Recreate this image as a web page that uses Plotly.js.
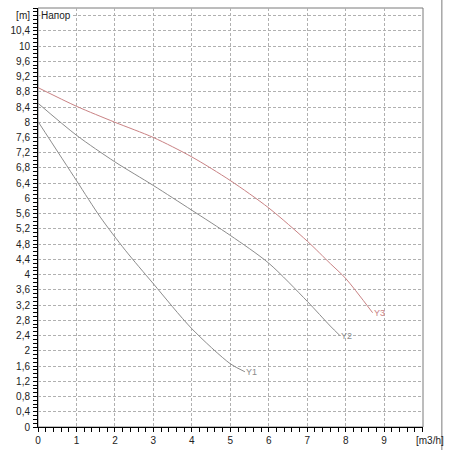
<!DOCTYPE html>
<html>
<head>
<meta charset="utf-8">
<script src="https://cdn.plot.ly/plotly-3.0.1.min.js"></script>
<style>
  html, body { margin: 0; padding: 0; background: #fff; }
  #chart { width: 450px; height: 450px; }
</style>
</head>
<body>
<div id="chart"></div>
<script>
// pump curves, head [m] vs flow [m3/h]
var y1Flow = [0, 1, 1.62, 2.27, 3.0, 4.0, 5.0, 5.38];
var y1Head = [8.02, 6.47, 5.51, 4.64, 3.76, 2.58, 1.66, 1.45];

var y2Flow = [0, 1, 2, 3, 4, 5, 6, 7, 7.6, 7.85];
var y2Head = [8.5, 7.66, 6.96, 6.34, 5.69, 5.03, 4.3, 3.3, 2.65, 2.4];

var y3Flow = [0, 1, 2, 3, 4, 5, 6, 7, 7.6, 8, 8.7];
var y3Head = [8.91, 8.42, 8.0, 7.6, 7.09, 6.47, 5.75, 4.88, 4.29, 3.9, 3.0];

var curveNames = ['Y1', 'Y2', 'Y3'];
var curveColors = ['#8c8c8c', '#8c8c8c', '#c98284'];

var xTicks = [0, 1, 2, 3, 4, 5, 6, 7, 8, 9];
var yTicks = [0, 0.4, 0.8, 1.2, 1.6, 2, 2.4, 2.8, 3.2, 3.6, 4, 4.4, 4.8, 5.2, 5.6, 6,
              6.4, 6.8, 7.2, 7.6, 8, 8.4, 8.8, 9.2, 9.6, 10, 10.4];

var yVals = yTicks.concat([10.8]);
var yText = yTicks.map(function (v) { return String(v).replace('.', ','); }).concat(['[m]']);

var flows = [y1Flow, y2Flow, y3Flow];
var heads = [y1Head, y2Head, y3Head];

var data = [];
var notes = [];
for (var i = 0; i < 3; i++) {
  data.push({
    x: flows[i],
    y: heads[i],
    type: 'scatter',
    mode: 'lines',
    name: curveNames[i],
    line: { color: curveColors[i], width: 1, shape: 'spline', smoothing: 0.8 },
    hoverinfo: 'skip'
  });
  notes.push({
    x: flows[i][flows[i].length - 1],
    y: heads[i][heads[i].length - 1],
    text: curveNames[i],
    showarrow: false,
    xanchor: 'left',
    yanchor: 'middle',
    xshift: -1,
    font: { family: 'Liberation Sans', size: 9, color: curveColors[i] }
  });
}

notes.push({
  x: 0.05, y: 10.8,
  text: 'Напор',
  showarrow: false,
  xanchor: 'left',
  yanchor: 'middle',
  bgcolor: '#fff',
  borderpad: 0,
  font: { family: 'Liberation Sans', size: 10, color: '#222' }
});
notes.push({
  x: 10, y: 0,
  yref: 'y',
  text: '[m3/h]',
  showarrow: false,
  xanchor: 'center',
  yanchor: 'top',
  xshift: 7,
  yshift: -6,
  font: { family: 'Liberation Sans', size: 10, color: '#222' }
});

var gridStyle = { gridcolor: '#b0b0b0', griddash: '3px,2px', gridwidth: 1 };

var layout = {
  width: 450,
  height: 450,
  margin: { l: 38, r: 27, t: 8, b: 23 },
  paper_bgcolor: '#fff',
  plot_bgcolor: '#fff',
  showlegend: false,
  font: { family: 'Liberation Sans', size: 10, color: '#222' },
  xaxis: Object.assign({
    range: [0, 10.01],
    tickvals: xTicks,
    ticktext: xTicks.map(String),
    ticks: 'outside',
    ticklen: 4,
    tickcolor: '#000',
    showline: true,
    linecolor: '#000',
    linewidth: 1,
    zeroline: false,
    minor: { dtick: 0.2, ticks: 'outside', ticklen: 4, tickcolor: '#000', showgrid: false }
  }, gridStyle),
  yaxis: Object.assign({
    range: [0, 11],
    tickvals: yVals,
    ticktext: yText,
    ticks: 'outside',
    ticklen: 4,
    tickcolor: '#000',
    showline: true,
    linecolor: '#000',
    linewidth: 1,
    zeroline: false,
    ticklabelstandoff: 1,
    minor: { dtick: 0.1, ticks: 'outside', ticklen: 4, tickcolor: '#000', showgrid: false }
  }, gridStyle),
  shapes: [
    { type: 'rect', xref: 'paper', yref: 'paper', x0: 0, x1: 1, y0: 0, y1: 1,
      layer: 'between', line: { color: '#7a7a7a', width: 1 } },
    { type: 'line', xref: 'paper', yref: 'paper', x0: 1.049, x1: 1.049, y0: -0.1, y1: 1.1,
      line: { color: '#7a7a7a', width: 1 } }
  ],
  annotations: notes
};

var config = { staticPlot: true, displayModeBar: false };
Plotly.newPlot('chart', data, layout, config);
</script>
</body>
</html>
